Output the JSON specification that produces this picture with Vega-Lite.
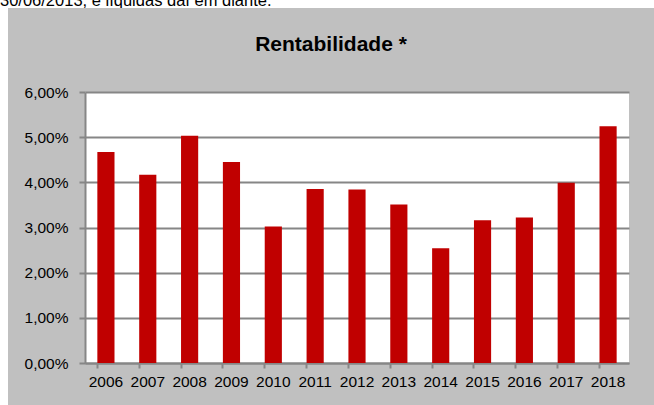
{
  "$schema": "https://vega.github.io/schema/vega-lite/v6.json",
  "background": "#C0C0C0",
  "padding": 0,
  "spacing": 0,
  "config": {
    "locale": {"number": {"decimal": ",", "thousands": ".", "grouping": [3], "currency": ["R$", ""]}},
    "font": "Liberation Sans",
    "view": {"stroke": null}
  },
  "vconcat": [
    {
      "width": 654,
      "height": 8,
      "view": {"fill": "white", "stroke": null},
      "data": {"values": [{"note": "30/06/2013, e líquidas daí em diante.", "px": 0, "py": 0.19}]},
      "mark": {"type": "text", "clip": true, "align": "left", "baseline": "alphabetic", "fontSize": 16.5, "color": "black", "font": "Liberation Sans"},
      "encoding": {
        "text": {"field": "note"},
        "x": {"field": "px", "type": "quantitative", "scale": {"domain": [0, 1]}, "axis": null},
        "y": {"field": "py", "type": "quantitative", "scale": {"domain": [0, 1]}, "axis": null}
      }
    },
    {
      "spacing": 16,
      "hconcat": [
        {
          "width": 8,
          "height": 397,
          "view": {"fill": "white", "stroke": null},
          "data": {"values": []},
          "mark": "point"
        },
        {
          "spacing": 0,
          "bounds": "flush",
          "vconcat": [
            {
              "width": 544,
              "height": 84,
              "view": {"fill": null, "stroke": null},
              "data": {"values": [{"titulo": "Rentabilidade *", "px": 0.5, "py": 0.49}]},
              "mark": {"type": "text", "align": "center", "baseline": "alphabetic", "fontSize": 21, "fontWeight": "bold", "color": "black", "font": "Liberation Sans", "dx": -26},
              "encoding": {
                "text": {"field": "titulo"},
                "x": {"field": "px", "type": "quantitative", "scale": {"domain": [0, 1]}, "axis": null},
                "y": {"field": "py", "type": "quantitative", "scale": {"domain": [0, 1]}, "axis": null}
              }
            },
            {
              "width": 544,
              "height": 271,
              "view": {"fill": "white", "stroke": null},
              "data": {
                "values": [
                  {"ano": "2006", "rentabilidade": 0.0467},
                  {"ano": "2007", "rentabilidade": 0.0417},
                  {"ano": "2008", "rentabilidade": 0.0503},
                  {"ano": "2009", "rentabilidade": 0.0445},
                  {"ano": "2010", "rentabilidade": 0.0302},
                  {"ano": "2011", "rentabilidade": 0.0385},
                  {"ano": "2012", "rentabilidade": 0.0384},
                  {"ano": "2013", "rentabilidade": 0.0351},
                  {"ano": "2014", "rentabilidade": 0.0254},
                  {"ano": "2015", "rentabilidade": 0.0316},
                  {"ano": "2016", "rentabilidade": 0.0322},
                  {"ano": "2017", "rentabilidade": 0.0399},
                  {"ano": "2018", "rentabilidade": 0.0524}
                ]
              },
              "mark": {"type": "bar", "color": "#C00000"},
              "encoding": {
                "x": {
                  "field": "ano",
                  "type": "ordinal",
                  "scale": {"paddingInner": 0.59, "paddingOuter": 0.295},
                  "axis": {
                    "title": null,
                    "labelAngle": 0,
                    "labelFont": "Liberation Sans",
                    "labelFontSize": 15.5,
                    "labelColor": "black",
                    "labelPadding": 6,
                    "tickSize": 5,
                    "tickWidth": 2,
                    "tickColor": "#868686",
                    "bandPosition": 0,
                    "domainColor": "#868686",
                    "domainWidth": 2
                  }
                },
                "y": {
                  "field": "rentabilidade",
                  "type": "quantitative",
                  "scale": {"domain": [0, 0.06], "nice": false},
                  "axis": {
                    "title": null,
                    "values": [0, 0.01, 0.02, 0.03, 0.04, 0.05, 0.06],
                    "format": ".2%",
                    "labelFont": "Liberation Sans",
                    "labelFontSize": 15.5,
                    "labelColor": "black",
                    "labelPadding": 11,
                    "tickSize": 6,
                    "tickWidth": 2,
                    "tickColor": "#868686",
                    "domainColor": "#868686",
                    "domainWidth": 2,
                    "gridColor": "#868686",
                    "gridWidth": 2,
                    "gridOpacity": 1
                  }
                }
              }
            }
          ]
        }
      ]
    }
  ]
}
